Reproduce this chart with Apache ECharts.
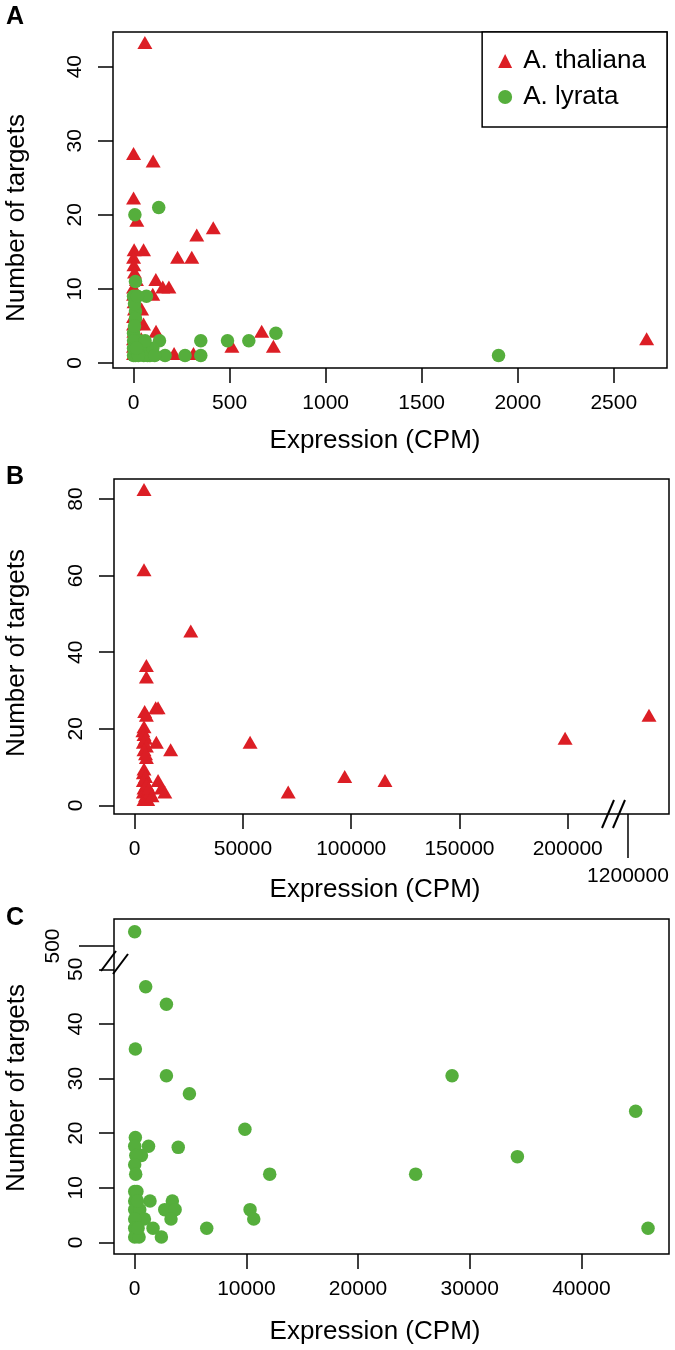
<!DOCTYPE html>
<html><head><meta charset="utf-8">
<script src="https://cdn.jsdelivr.net/npm/echarts@6/dist/echarts.min.js"></script>
<style>html,body{margin:0;padding:0;background:#fff}#c{width:675px;height:1350px}</style>
</head><body><div id="c"></div>
<script>
// ---------- data ----------
const seriesNames = ['A. thaliana', 'A. lyrata'];
// Panel A (Expression CPM, Number of targets)
const aThalX = [59,0,102,0,17,3,52,0,229,303,329,415,2,5,116,0,152,184,100,0,3,42,10,52,0,2,117,667,0,40,0,30,512,728,0,20,52,100,211,312,2671,5,60,15,0];
const aThalY = [43,28,27,22,19,15,15,14,14,14,17,18,13,12,11,10,10,10,9,9,8,7,6,5,5,4,4,4,3,3,2,2,2,2,1,1,1,1,1,1,3,7,2,11,6];
const aLyrX = [7,131,10,0,67,10,10,0,135,164,268,350,350,489,600,741,1900,53,73,0,10,20,30,0,0,40,85,100,5,25,60,15,5,20,110];
const aLyrY = [20,21,11,9,9,7,6,4,3,1,1,1,3,3,3,4,1,1,1,1,1,2,3,3,2,2,1,2,5,1,3,2,8,9,1];
// Panel B (A. thaliana)
const bThalX = [4300,4300,25900,5400,5400,9700,10800,4600,5400,4300,3800,4300,5000,4000,10000,5400,4300,16600,5400,53300,70900,97000,115600,198800,1209700,4300,4000,5000,4000,5400,4300,4000,5000,4300,6000,10800,12300,13900,5500,7000,6500,8000,5000];
const bThalY = [82,61,45,36,33,25,25,24,23,20,19,18,17,16,16,15,14,14,12,16,3,7,6,17,23,9,8,7,6,5,4,3,2,1,1,6,4,3,5,3,4,2,13];
// Panel C (A. lyrata)
const cLyrX = [0,985,2840,60,2840,4900,9870,12090,28420,44860,34270,25160,45970,60,0,1240,3900,600,100,0,90,0,0,1370,3370,2690,3620,0,450,10330,3250,870,0,10660,1640,0,6450,2390,0,390,300,200,250];
const cLyrY = [502.6,46.8,43.6,35.4,30.5,27.2,20.7,12.5,30.5,24.0,15.7,12.5,2.6,19.2,17.6,17.6,17.4,15.9,15.9,14.2,12.5,9.3,7.6,7.6,7.6,6.0,6.0,6.0,6.0,6.0,4.3,4.3,4.3,4.3,2.6,2.6,2.6,1.0,1.0,1.0,2.6,9.3,7.6];
// tick labels
const ticksAX = [0,500,1000,1500,2000,2500];
const ticksAY = [0,10,20,30,40];
const ticksBX = [0,50000,100000,150000,200000];
const ticksBY = [0,20,40,60,80];
const ticksCX = [0,10000,20000,30000,40000];
const ticksCY = [0,10,20,30,40,50];
const breakTickB = 1200000;
const breakTickC = 500;
const xTitle = 'Expression (CPM)';
const yTitle = 'Number of targets';
const panelLetters = ['A','B','C'];

// ---------- axis breaks (values beyond the break are shifted) ----------
const breakB = {above: 1000000, shift: 972150};
const breakC = {above: 100, shift: 445.74};
const mapB = x => x > breakB.above ? x - breakB.shift : x;
const mapC = y => y > breakC.above ? y - breakC.shift : y;
const pairs = (xs, ys, fx, fy) => xs.map((x, i) => [fx ? fx(x) : x, fy ? fy(ys[i]) : ys[i]]);

const FONT = '"Liberation Sans", Arial, Helvetica, sans-serif';
const RED = '#dc1e25', GREEN = '#55ae3c', INK = '#000';

const grids = [
  {left: 113, top: 32, width: 554, height: 336},
  {left: 114, top: 479, width: 555, height: 335},
  {left: 114, top: 919, width: 555, height: 335}
].map(g => Object.assign(g, {show: true, borderColor: INK, borderWidth: 1.5, backgroundColor: 'transparent'}));

function xAx(gi, min, max, ticks) {
  return {type: 'value', gridIndex: gi, min, max, axisLine: {show: false, onZero: false}, splitLine: {show: false},
    axisTick: {show: true, inside: false, length: 15, customValues: ticks, lineStyle: {color: INK, width: 1.5}},
    axisLabel: {customValues: ticks, margin: 25, fontSize: 21, fontFamily: FONT, color: INK, formatter: v => String(v)}};
}
function yAx(gi, min, max, ticks) {
  return {type: 'value', gridIndex: gi, min, max, axisLine: {show: false, onZero: false}, splitLine: {show: false},
    axisTick: {show: true, inside: false, length: 15, customValues: ticks, lineStyle: {color: INK, width: 1.5}},
    axisLabel: {customValues: ticks, rotate: 90, margin: 27, fontSize: 21, fontFamily: FONT, color: INK, formatter: v => String(v)}};
}

const tri = {symbol: 'triangle', symbolSize: [15, 13], symbolOffset: [0, -2], itemStyle: {color: RED, opacity: 1}};
const dot = {symbol: 'circle', symbolSize: 13.5, itemStyle: {color: GREEN, opacity: 1}};

const option = {
  animation: false,
  backgroundColor: '#fff',
  grid: grids,
  xAxis: [xAx(0, -107, 2777, ticksAX), xAx(1, -9560, 246790, ticksBX), xAx(2, -1854, 47847, ticksCX)],
  yAxis: [yAx(0, -0.68, 44.68, ticksAY), yAx(1, -2.24, 85.24, ticksBY), yAx(2, -2.12, 59.2, ticksCY)],
  legend: {
    data: [{name: seriesNames[0], icon: 'triangle'}, {name: seriesNames[1], icon: 'circle'}],
    orient: 'vertical', right: 8, top: 32, padding: [16, 21, 17, 16], itemGap: 10,
    itemWidth: 14, itemHeight: 14, borderColor: INK, borderWidth: 1.5, backgroundColor: '#fff',
    selectedMode: false,
    textStyle: {fontSize: 26, fontFamily: FONT, color: INK, padding: [0, 0, 0, 6]}
  },
  series: [
    Object.assign({type: 'scatter', name: seriesNames[0], xAxisIndex: 0, yAxisIndex: 0, data: pairs(aThalX, aThalY)}, tri),
    Object.assign({type: 'scatter', name: seriesNames[1], xAxisIndex: 0, yAxisIndex: 0, data: pairs(aLyrX, aLyrY)}, dot),
    Object.assign({type: 'scatter', name: seriesNames[0], xAxisIndex: 1, yAxisIndex: 1, data: pairs(bThalX, bThalY, mapB)}, tri),
    Object.assign({type: 'scatter', name: seriesNames[1], xAxisIndex: 2, yAxisIndex: 2, data: pairs(cLyrX, cLyrY, null, mapC)}, dot)
  ]
};

const chart = echarts.init(document.getElementById('c'), null, {renderer: 'canvas'});
chart.setOption(option);

// ---------- titles, panel letters, axis-break decorations ----------
const txt = (text, x, y, size, rot, bold) => ({type: 'text', x, y, rotation: rot || 0, silent: true,
  style: {text, fontSize: size, fontFamily: FONT, fontWeight: bold ? 'bold' : 'normal', fill: INK, align: 'center', verticalAlign: 'middle'}});
const ln = (x1, y1, x2, y2, w) => ({type: 'line', silent: true, shape: {x1, y1, x2, y2}, style: {stroke: INK, lineWidth: w || 1.5}});

const g = [];
const letterY = [17, 477.5, 917.7];
const xTitleY = [441, 890, 1331.5];
const yTitleY = [218, 653, 1088];
for (let i = 0; i < 3; i++) {
  g.push(txt(panelLetters[i], 15, letterY[i], 25, 0, true));
  g.push(txt(xTitle, 375, xTitleY[i], 26));
  g.push(txt(yTitle, 17, yTitleY[i], 26, Math.PI / 2));
}
// Panel B x break
const gb = grids[1], bBottom = gb.top + gb.height;
const pB = chart.convertToPixel({gridIndex: 1}, [mapB(breakTickB), 0]);
g.push(ln(pB[0], bBottom, pB[0], bBottom + 44));
g.push(txt(String(breakTickB), pB[0], 876, 21));
g.push(ln(pB[0] - 26, bBottom + 14, pB[0] - 14, bBottom - 14, 2));
g.push(ln(pB[0] - 15, bBottom + 14, pB[0] - 3, bBottom - 14, 2));
// Panel C y break
const gc = grids[2];
const pC = chart.convertToPixel({gridIndex: 2}, [0, mapC(breakTickC)]);
g.push(ln(gc.left, pC[1], gc.left - 35, pC[1]));
g.push(txt(String(breakTickC), 53, pC[1], 21, Math.PI / 2));
g.push(ln(101, pC[1] + 25, 116, pC[1] + 5, 2));
g.push(ln(113, pC[1] + 28, 128, pC[1] + 8, 2));
chart.setOption({graphic: g});
</script>
</body></html>
